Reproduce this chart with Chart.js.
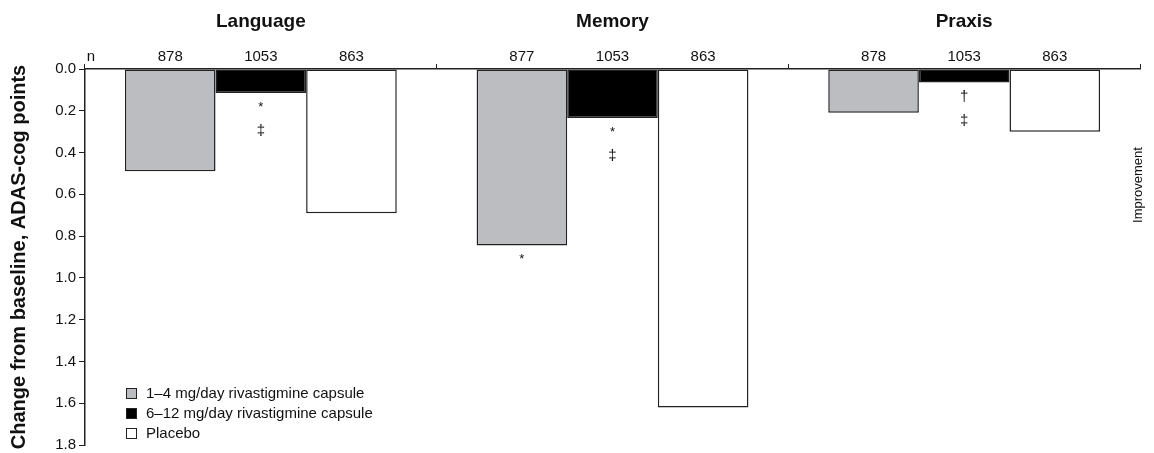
<!DOCTYPE html>
<html>
<head>
<meta charset="utf-8">
<script src="https://cdn.jsdelivr.net/npm/chart.js@4.4.1/dist/chart.umd.min.js"></script>
<style>
  body { margin: 0; background: #fff; }
  canvas { display: block; }
</style>
</head>
<body>
<canvas id="myChart" width="1154" height="453"></canvas>
<script>
const FONT = '"Liberation Sans", Arial, Helvetica, sans-serif'

// domains of the ADAS-cog
const groups = ["Language", "Memory", "Praxis"]
const seriesLabels = ["1–4 mg/day rivastigmine capsule", "6–12 mg/day rivastigmine capsule", "Placebo"]

// change from baseline (improvement, points)
const lowDose = [0.49, 0.845, 0.21]
const highDose = [0.115, 0.235, 0.065]
const placebo = [0.69, 1.62, 0.30]

// patients per bar
const nLow = [878, 877, 878]
const nHigh = [1053, 1053, 1053]
const nPlacebo = [863, 863, 863]

// significance marks under the bars
const marksLow = [[], ["*"], []]
const marksHigh = [["*", "‡"], ["*", "‡"], ["†", "‡"]]
const marksPlacebo = [[], [], []]

const yTicks = [0, 0.2, 0.4, 0.6, 0.8, 1.0, 1.2, 1.4, 1.6, 1.8]

const nCounts = [nLow, nHigh, nPlacebo]
const sigMarks = [marksLow, marksHigh, marksPlacebo]
const fills = ["#bcbdc0", "#000000", "#ffffff"]

const extras = {
  id: "extras",
  afterDraw(chart) {
    const ctx = chart.ctx
    const xs = chart.scales.x
    ctx.save()
    ctx.fillStyle = "#111"
    ctx.textAlign = "center"
    ctx.textBaseline = "middle"

    ctx.font = "bold 19px " + FONT
    groups.forEach((g, i) => ctx.fillText(g, xs.getPixelForValue(i), 22))

    ctx.font = "15px " + FONT
    ctx.fillText("n", 91, 57)

    chart.data.datasets.forEach((ds, d) => {
      const meta = chart.getDatasetMeta(d)
      meta.data.forEach((bar, i) => {
        ctx.font = "15px " + FONT
        ctx.fillText(String(nCounts[d][i]), bar.x, 57)
        sigMarks[d][i].forEach((m, k) => {
          ctx.font = (m == "*" ? "13px " : "15px ") + FONT
          ctx.fillText(m, bar.x, bar.y + 14 + 24 * k)
        })
      })
    })

    // legend
    ctx.textAlign = "left"
    ctx.font = "15px " + FONT
    seriesLabels.forEach((lab, i) => {
      const cy = 394 + i * 20
      ctx.fillStyle = fills[i]
      ctx.fillRect(126.5, cy - 5.5, 10, 10)
      ctx.strokeStyle = "#222"
      ctx.lineWidth = 1
      ctx.strokeRect(126.5, cy - 5.5, 10, 10)
      ctx.fillStyle = "#111"
      ctx.fillText(lab, 146, cy)
    })

    // side note
    ctx.translate(1138, 185)
    ctx.rotate(-Math.PI / 2)
    ctx.textAlign = "center"
    ctx.font = "13px " + FONT
    ctx.fillText("Improvement", 0, 0)
    ctx.restore()
  }
}

const datasets = [lowDose, highDose, placebo].map((vals, d) => ({
  label: seriesLabels[d],
  data: vals,
  backgroundColor: fills[d],
  borderColor: "#222",
  borderWidth: 1.5,
  borderSkipped: false,
  categoryPercentage: 0.773,
  barPercentage: 1
}))

new Chart(document.getElementById("myChart"), {
  type: "bar",
  data: { labels: groups, datasets },
  options: {
    responsive: false,
    animation: false,
    devicePixelRatio: 1,
    layout: { padding: { top: 0, left: 0, right: 14, bottom: 8 } },
    plugins: { legend: { display: false }, tooltip: { enabled: false } },
    scales: {
      x: {
        position: "top",
        offset: true,
        ticks: { display: false },
        grid: { offset: true, drawOnChartArea: false, tickLength: 5, color: "#222", lineWidth: 1 },
        border: { display: true, color: "#222", width: 1.5 },
        afterFit(scale) { scale.height = 69 }
      },
      y: {
        reverse: true,
        min: 0,
        max: 1.8,
        afterBuildTicks(scale) { scale.ticks = yTicks.map(v => ({ value: v })) },
        ticks: {
          color: "#111",
          padding: 3,
          font: { family: FONT, size: 15 },
          callback: v => Number(v).toFixed(1)
        },
        grid: { drawOnChartArea: false, tickLength: 6, color: "#222", lineWidth: 1 },
        border: { display: true, color: "#222", width: 1.5 },
        title: {
          display: true,
          text: "Change from baseline, ADAS-cog points",
          color: "#111",
          font: { family: FONT, size: 20, weight: "bold" },
          padding: { top: 7, bottom: 0 }
        },
        afterFit(scale) {
          scale.width = 85
          scale.paddingTop = 0
          scale.paddingBottom = 0
        }
      }
    }
  },
  plugins: [extras]
})
</script>
</body>
</html>
